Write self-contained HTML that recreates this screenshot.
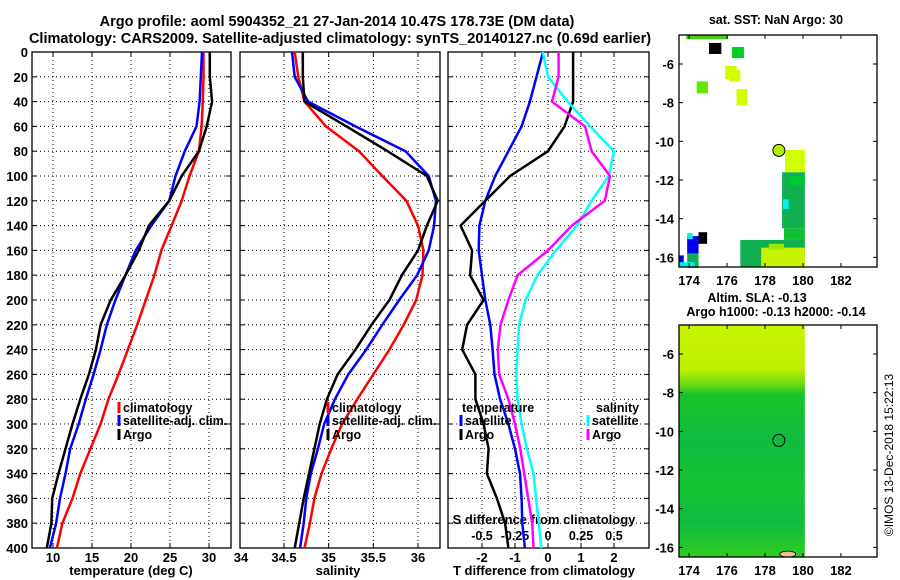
<!DOCTYPE html>
<html><head><meta charset="utf-8"><style>
html,body{margin:0;padding:0;background:#fff}
svg{display:block;font-family:"Liberation Sans",sans-serif;font-weight:bold}
</style></head><body>
<svg id="c" width="900" height="580" viewBox="0 0 900 580" xmlns="http://www.w3.org/2000/svg">
<text x="337" y="26" font-size="14.5" text-anchor="middle">Argo profile: aoml 5904352_21 27-Jan-2014 10.47S 178.73E (DM data)</text>
<text x="340" y="43" font-size="14.5" text-anchor="middle">Climatology: CARS2009. Satellite-adjusted climatology: synTS_20140127.nc (0.69d earlier)</text>
<text x="131" y="575" font-size="13" text-anchor="middle">temperature (deg C)</text>
<text x="338" y="575" font-size="13" text-anchor="middle">salinity</text>
<text x="544" y="575" font-size="13" text-anchor="middle">T difference from climatology</text>
<text x="544" y="524" font-size="13" text-anchor="middle">S difference from climatology</text>
<text x="776" y="24" font-size="12.5" text-anchor="middle">sat. SST: NaN Argo: 30</text>
<text x="757" y="302" font-size="12.5" text-anchor="middle">Altim. SLA: -0.13</text>
<text x="776" y="316" font-size="12.5" text-anchor="middle">Argo h1000: -0.13 h2000: -0.14</text>
<text transform="translate(893,455) rotate(-90)" font-size="12" font-weight="normal" text-anchor="middle">©IMOS 13-Dec-2018 15:22:13</text>
<defs>
<linearGradient id="slag" x1="0" y1="0" x2="0" y2="1">
<stop offset="0" stop-color="#c8f400"/><stop offset="0.19" stop-color="#c0f000"/><stop offset="0.25" stop-color="#70dc10"/><stop offset="0.3" stop-color="#18c428"/><stop offset="0.5" stop-color="#10bc40"/><stop offset="0.7" stop-color="#14c430"/><stop offset="0.85" stop-color="#10bc40"/><stop offset="1" stop-color="#30cc20"/>
</linearGradient>
</defs>
</svg>
<script>
const depths=[0,20,40,60,80,100,120,140,160,180,200,220,240,260,280,300,320,340,360,380,400];
const tempClim=[29.3,29.3,29.2,29.05,28.7,27.5,26.5,25.2,23.9,23.0,21.9,20.8,19.6,18.4,17.1,16.1,14.8,13.5,12.5,11.2,10.5];
const tempSat=[29.1,28.95,28.8,28.4,26.9,25.7,24.9,22.6,20.6,19.3,18.0,16.9,16.1,15.2,14.2,13.3,12.2,11.6,10.9,10.4,9.6];
const tempArgo=[30.1,30.1,30.4,29.7,28.7,26.5,24.9,22.3,21.0,19.3,17.4,16.1,15.5,14.6,13.5,12.5,11.6,10.7,9.9,9.8,9.2];
const salClim=[34.62,34.66,34.73,34.97,35.34,35.6,35.87,36.0,36.06,36.05,35.98,35.84,35.68,35.5,35.32,35.15,35.03,34.92,34.84,34.79,34.73];
const salSat=[34.59,34.62,34.77,35.3,35.86,36.12,36.2,36.18,36.12,35.99,35.79,35.6,35.42,35.22,35.07,34.95,34.88,34.8,34.75,34.72,34.68];
const salArgo=[34.71,34.71,34.73,35.2,35.66,36.1,36.22,36.1,36.0,35.82,35.68,35.48,35.3,35.1,34.98,34.9,34.84,34.78,34.72,34.67,34.62];
const tDiffSat=[-0.15,-0.35,-0.55,-0.8,-1.2,-1.6,-1.9,-2.08,-2.1,-2.0,-1.9,-1.75,-1.68,-1.62,-1.45,-1.2,-1.0,-0.85,-0.8,-0.78,-0.7];
const tDiffArgo=[0.76,0.76,0.76,0.5,0.0,-1.15,-1.9,-2.65,-2.3,-2.36,-1.95,-2.45,-2.6,-2.2,-2.2,-1.95,-1.8,-1.85,-1.55,-1.3,-1.2];
const sDiffSat=[-0.04,0.0,0.15,0.32,0.5,0.46,0.33,0.22,0.06,-0.08,-0.17,-0.22,-0.23,-0.24,-0.23,-0.2,-0.16,-0.11,-0.09,-0.07,-0.05];
const sDiffArgo=[0.08,0.08,0.03,0.28,0.33,0.47,0.43,0.18,0.0,-0.23,-0.3,-0.36,-0.38,-0.37,-0.3,-0.25,-0.21,-0.18,-0.15,-0.12,-0.11];
const depthTicks=[0,20,40,60,80,100,120,140,160,180,200,220,240,260,280,300,320,340,360,380,400];
const tempTicks=[10,15,20,25,30];
const salTicks=[34.5,35,35.5,36];
const tDiffTicks=[-2,-1,0,1,2];
const sDiffTicks=[-0.5,-0.25,0,0.25,0.5];
const sDiffLabels=["-0.5","-0.25","0","0.25","0.5"];
const latTicks=[-6,-8,-10,-12,-14,-16];
const lonTicks=[174,176,178,180,182];
const argoPos=[178.73,-10.47];
const sstCells=[
[173.85,-4.5,2.2,0.22,'#48d010'],[175.05,-4.91,0.65,0.57,'#000000'],[176.26,-5.12,0.63,0.57,'#00d020'],
[175.9,-6.1,0.6,0.68,'#d0ff00'],[176.1,-6.3,0.6,0.6,'#d0ff00'],[174.4,-6.9,0.6,0.62,'#60e800'],
[176.5,-7.3,0.58,0.82,'#d0ff00'],[179.05,-10.45,1.05,1.15,'#d0ff00'],[178.9,-11.6,1.2,2.9,'#10b050'],
[179.3,-11.8,0.8,0.5,'#00c830'],[178.95,-13.0,0.3,0.5,'#00f0f0'],[179.0,-14.5,1.1,0.6,'#10c030'],
[176.7,-15.1,3.4,1.4,'#10b050'],[177.8,-15.5,2.3,1.0,'#c8f400'],[178.2,-15.3,0.8,0.3,'#a0e800'],
[173.9,-14.9,0.6,0.9,'#0000f0'],[173.9,-14.75,0.3,0.3,'#00f0f0'],[174.5,-14.7,0.45,0.6,'#000000'],
[173.9,-15.8,0.6,0.75,'#10b050'],[173.47,-15.9,0.25,0.55,'#0000f0'],[173.5,-16.25,0.8,0.25,'#00f0f0']];
const NS='http://www.w3.org/2000/svg';
const svg=document.getElementById('c');
function el(tag,attrs,parent){const e=document.createElementNS(NS,tag);for(const k in attrs)e.setAttribute(k,attrs[k]);(parent||svg).appendChild(e);return e;}
const Y0=52,Y1=548;
function yD(d){return Y0+(d/400)*(Y1-Y0);}
function linScale(d0,d1,r0,r1){return v=>r0+(v-d0)/(d1-d0)*(r1-r0);}
function panel(name,x0,x1,xs,xticks,xlabels,showDepthLabels){
  const g=el('g',{});
  
  
  depthTicks.forEach(d=>{
    if(d>0&&d<400){const l=el('line',{x1:x0,x2:x1,y1:yD(d),y2:yD(d),stroke:'#000','stroke-width':1,'stroke-dasharray':'1,3'},g);
    }
    const t1=el('line',{x1:x0,x2:x0+5,y1:yD(d),y2:yD(d),stroke:'#000'},g);
    
    const t2=el('line',{x1:x1-5,x2:x1,y1:yD(d),y2:yD(d),stroke:'#000'},g);
    
    if(showDepthLabels){const t=el('text',{x:x0-4,y:yD(d)+5,'font-size':13,'text-anchor':'end'},g);t.textContent=d;
      }
  });
  xticks.forEach((v,i)=>{
    const x=xs(v);
    const l=el('line',{x1:x,x2:x,y1:Y0,y2:Y1,stroke:'#000','stroke-width':1,'stroke-dasharray':'1,3'},g);
    
    const t=el('line',{x1:x,x2:x,y1:Y1-5,y2:Y1,stroke:'#000'},g);
    
    const t2=el('line',{x1:x,x2:x,y1:Y0,y2:Y0+5,stroke:'#000'},g);
    
    if(xlabels){const tx=el('text',{x:x,y:562,'font-size':13,'text-anchor':'middle'},g);tx.textContent=xlabels[i];
      }
  });
  const r=el('rect',{x:x0,y:Y0,width:x1-x0,height:Y1-Y0,fill:'none',stroke:'#000','stroke-width':1.3},g);
  
  return g;
}
function series(g,name,vals,xs,color){
  const pts=vals.map((v,i)=>xs(v).toFixed(1)+','+yD(depths[i]).toFixed(1)).join(' ');
  const p=el('polyline',{points:pts,fill:'none',stroke:color,'stroke-width':2.5,'stroke-linejoin':'round'},g);
  
  
}
function legend(g,name,x,y,color,label){
  const m=el('line',{x1:x,x2:x,y1:y-10,y2:y+1,stroke:color,'stroke-width':3},g);
  
  const t=el('text',{x:x+4,y:y,'font-size':12.5},g);t.textContent=label;
  
}
const xT=linScale(10,30,53,209);
const g1=panel('temperature-panel',32,231,xT,tempTicks,tempTicks.map(String),true);
series(g1,'temp-climatology-line',tempClim,xT,'#ff0000');
series(g1,'temp-satellite-line',tempSat,xT,'#0000ff');
series(g1,'temp-argo-line',tempArgo,xT,'#000000');
legend(g1,'legend-climatology',119,412,'#ff0000','climatology');
legend(g1,'legend-satellite-adj',119,425,'#0000ff','satellite-adj. clim.');
legend(g1,'legend-argo',119,439,'#000000','Argo');
{const t=el('text',{x:241,y:562,'font-size':13,'text-anchor':'middle'});t.textContent='34';}
const xS=linScale(34.5,36,284,418);
const g2=panel('salinity-panel',240,440,xS,salTicks,salTicks.map(String),false);
series(g2,'sal-climatology-line',salClim,xS,'#ff0000');
series(g2,'sal-satellite-line',salSat,xS,'#0000ff');
series(g2,'sal-argo-line',salArgo,xS,'#000000');
legend(g2,'legend-sal-climatology',328,412,'#ff0000','climatology');
legend(g2,'legend-sal-satellite-adj',328,425,'#0000ff','satellite-adj. clim.');
legend(g2,'legend-sal-argo',328,439,'#000000','Argo');
const xTD=linScale(-2,2,482,614);
const xSD=linScale(-0.5,0.5,482,614);
const g3=panel('difference-panel',448,649,xTD,tDiffTicks,tDiffTicks.map(String),false);
sDiffTicks.forEach((v,i)=>{
  const t=el('text',{x:xSD(v),y:540,'font-size':12.5,'text-anchor':'middle'},g3);t.textContent=sDiffLabels[i];
  
});
series(g3,'t-diff-satellite-line',tDiffSat,xTD,'#0000ff');
series(g3,'t-diff-argo-line',tDiffArgo,xTD,'#000000');
series(g3,'s-diff-satellite-line',sDiffSat,xSD,'#00ffff');
series(g3,'s-diff-argo-line',sDiffArgo,xSD,'#ff00ff');
{const t=el('text',{x:462,y:412,'font-size':12.5},g3);t.textContent='temperature';}
{const t=el('text',{x:596,y:412,'font-size':12.5},g3);t.textContent='salinity';}
legend(g3,'legend-t-satellite',461,425,'#0000ff','satellite');
legend(g3,'legend-t-argo',461,439,'#000000','Argo');
legend(g3,'legend-s-satellite',588,425,'#00ffff','satellite');
legend(g3,'legend-s-argo',588,439,'#ff00ff','Argo');
function map(name,top,drawFill){
  const g=el('g',{});
  
  
  const x0=679,x1=877,y1=top+232;
  const lx=linScale(173.47,183.9,x0,x1), ly=linScale(-4.5,-16.5,top,y1);
  drawFill(g,lx,ly);
  latTicks.forEach(v=>{
    const y=ly(v);
    const a=el('line',{x1:x0,x2:x0+4,y1:y,y2:y,stroke:'#000'},g);
    const b=el('line',{x1:x1-4,x2:x1,y1:y,y2:y,stroke:'#000'},g);
    const t=el('text',{x:x0-5,y:y+5,'font-size':13,'text-anchor':'end'},g);t.textContent=v;
  });
  lonTicks.forEach(v=>{
    const x=lx(v);
    const a=el('line',{x1:x,x2:x,y1:top,y2:top+4,stroke:'#000'},g);
    const b=el('line',{x1:x,x2:x,y1:y1-4,y2:y1,stroke:'#000'},g);
    const t=el('text',{x:x,y:y1+18,'font-size':13,'text-anchor':'middle'},g);t.textContent=v;
  });
  const c=el('circle',{cx:lx(argoPos[0]),cy:ly(argoPos[1]),r:6,fill:name==='sst-map'?'#b0f000':'none',stroke:'#000','stroke-width':1},g);
  
  const r=el('rect',{x:x0,y:top,width:x1-x0,height:y1-top,fill:'none',stroke:'#000','stroke-width':1.3},g);
  
}
map('sst-map',35,(g,lx,ly)=>{
  sstCells.forEach(c=>{
    const r=el('rect',{x:lx(c[0]),y:ly(c[1]),width:lx(c[0]+c[2])-lx(c[0]),height:ly(c[1]-c[3])-ly(c[1]),fill:c[4]},g);
    
  });
});
map('sla-map',325,(g,lx,ly)=>{
  const r=el('rect',{x:lx(173.47),y:ly(-4.5),width:lx(180.1)-lx(173.47),height:ly(-16.5)-ly(-4.5),fill:'url(#slag)'},g);
  
  const b=el('ellipse',{cx:lx(179.2),cy:ly(-16.35),rx:8,ry:3,fill:'#f0c090',stroke:'#000','stroke-width':0.8},g);
  
});
</script>
</body></html>
